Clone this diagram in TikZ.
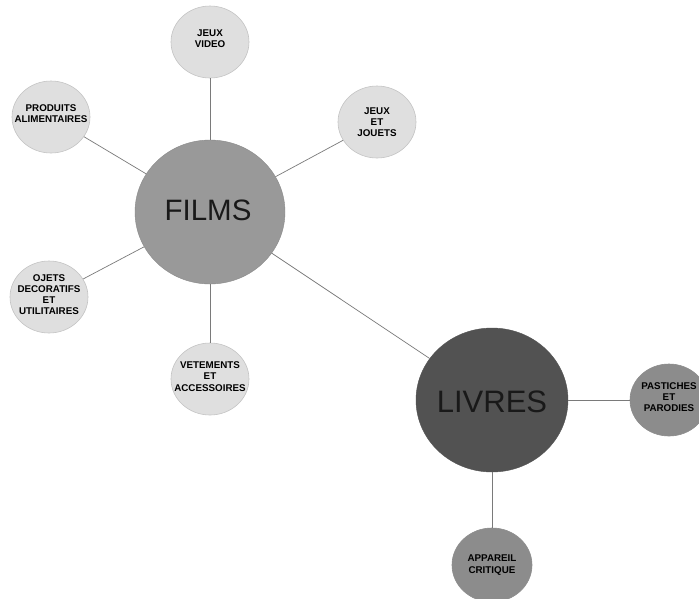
\documentclass[tikz,border=0pt]{standalone}
\usepackage{fontspec}
\setmainfont{Liberation Sans}
\usetikzlibrary{shapes.geometric}
\definecolor{lightfill}{HTML}{DFDFDF}
\definecolor{lightedge}{HTML}{C4C4C4}
\definecolor{filmsfill}{HTML}{999999}
\definecolor{livresfill}{HTML}{525252}
\definecolor{midfill}{HTML}{8C8C8C}
\definecolor{linkcol}{HTML}{7A7A7A}
\begin{document}
\begin{tikzpicture}[x=1pt,y=-1pt,
  bubble/.style={ellipse, minimum width=78pt, minimum height=72pt, inner sep=0pt, fill=lightfill, draw=lightedge, line width=0.6pt},
  midbubble/.style={bubble, fill=midfill, draw=midfill},
  label text/.style={font=\bfseries\fontsize{9.8}{11.2}\selectfont, align=center, text=black, inner sep=0pt},
  big/.style={ellipse, inner sep=0pt},
  link/.style={draw=linkcol, line width=0.7pt}]
\fill[white] (0,0) rectangle (699,598);
\useasboundingbox (0,0) rectangle (699,598);
\clip (0,0) rectangle (699,598);

% main nodes
\node[big, minimum width=150pt, minimum height=144pt, fill=filmsfill, draw=filmsfill!90!black] (films) at (210,212) {};
\node[big, minimum width=152pt, minimum height=144pt, fill=livresfill, draw=livresfill] (livres) at (492,400) {};
\node[font=\fontsize{29.5}{32}\selectfont, text=black!90, inner sep=0pt] (filmst) at (208,210) {FILMS};
\node[font=\fontsize{31}{33}\selectfont, text=black!90, inner sep=0pt] (livrest) at (492,402) {LIVRES};

% satellite bubbles
\node[bubble] (jv) at (210,42) {};
\node[bubble] (pa) at (51,117) {};
\node[bubble] (jj) at (377,122) {};
\node[bubble] (od) at (49,297) {};
\node[bubble] (va) at (210,379) {};
\node[midbubble] (pp) at (669,400) {};
\node[midbubble, minimum width=80pt, minimum height=74pt] (ac) at (492,565) {};

% connectors
\draw[link] (films) -- (jv);
\draw[link] (films) -- (pa);
\draw[link] (films) -- (jj);
\draw[link] (films) -- (od);
\draw[link] (films) -- (va);
\draw[link] (films) -- (livres);
\draw[link] (livres) -- (pp);
\draw[link] (livres) -- (ac);

% texts
\node[label text] (jvt) at (jv) [yshift=3.5pt] {JEUX\\VIDEO};
\node[label text] (pat) at (pa) [yshift=3pt] {PRODUITS\\ALIMENTAIRES};
\node[label text] (jjt) at (jj) {JEUX\\ET\\JOUETS};
\node[label text] (odt) at (od) [yshift=2.5pt] {OJETS\\DECORATIFS\\ET\\UTILITAIRES};
\node[label text] (vat) at (va) [yshift=2.5pt] {VETEMENTS\\ET\\ACCESSOIRES};
\node[label text] (ppt) at (pp) [yshift=3pt] {PASTICHES\\ET\\PARODIES};
\node[label text] (act) at (ac) {APPAREIL\\CRITIQUE};
\end{tikzpicture}
\end{document}
